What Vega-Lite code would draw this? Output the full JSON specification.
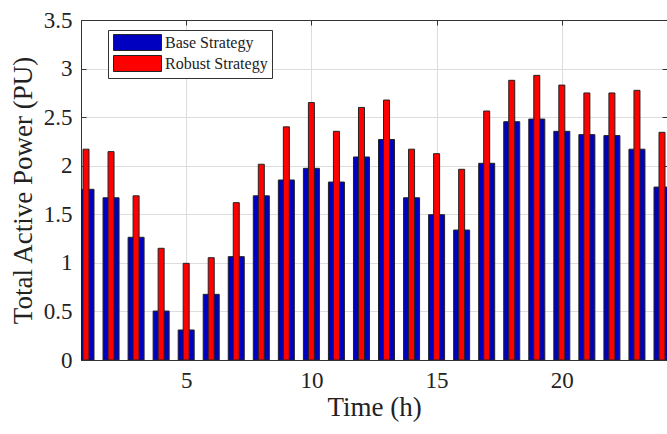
{
  "$schema": "https://vega.github.io/schema/vega-lite/v6.json",
  "width": 586,
  "height": 340,
  "autosize": "none",
  "padding": {"left": 81, "top": 20, "right": 0, "bottom": 74},
  "background": "white",
  "config": {
    "view": {"stroke": "#333333", "strokeWidth": 1},
    "font": "Liberation Serif"
  },
  "data": {
    "values": [
      {"hour": 1, "base": 1.757, "robust": 2.17},
      {"hour": 2, "base": 1.67, "robust": 2.145},
      {"hour": 3, "base": 1.263, "robust": 1.69},
      {"hour": 4, "base": 0.504, "robust": 1.15},
      {"hour": 5, "base": 0.309, "robust": 0.995},
      {"hour": 6, "base": 0.676, "robust": 1.053},
      {"hour": 7, "base": 1.064, "robust": 1.62},
      {"hour": 8, "base": 1.69, "robust": 2.015},
      {"hour": 9, "base": 1.853, "robust": 2.40},
      {"hour": 10, "base": 1.973, "robust": 2.65},
      {"hour": 11, "base": 1.832, "robust": 2.354},
      {"hour": 12, "base": 2.09, "robust": 2.60},
      {"hour": 13, "base": 2.27, "robust": 2.676},
      {"hour": 14, "base": 1.67, "robust": 2.17},
      {"hour": 15, "base": 1.496, "robust": 2.124},
      {"hour": 16, "base": 1.338, "robust": 1.963},
      {"hour": 17, "base": 2.025, "robust": 2.563},
      {"hour": 18, "base": 2.453, "robust": 2.879},
      {"hour": 19, "base": 2.48, "robust": 2.93},
      {"hour": 20, "base": 2.354, "robust": 2.83},
      {"hour": 21, "base": 2.32, "robust": 2.749},
      {"hour": 22, "base": 2.31, "robust": 2.749},
      {"hour": 23, "base": 2.17, "robust": 2.776},
      {"hour": 24, "base": 1.78, "robust": 2.344}
    ]
  },
  "transform": [
    {"fold": ["base", "robust"], "as": ["key", "value"]},
    {"lookup": "key", "from": {"data": {"values": [{"key": "base", "strategy": "Base Strategy"}, {"key": "robust", "strategy": "Robust Strategy"}]}, "key": "key", "fields": ["strategy"]}}
  ],
  "encoding": {
    "color": {
      "field": "strategy", "type": "nominal",
      "scale": {"domain": ["Base Strategy", "Robust Strategy"], "range": ["#0000c0", "#ff0000"]},
      "legend": {
        "title": null, "orient": "none", "legendX": 27, "legendY": 10,
        "symbolType": "M-3,-1H3V1H-3Z", "symbolSize": 256, "symbolStrokeColor": "#222", "symbolStrokeWidth": 1,
        "symbolOffset": 17,
        "labelFont": "Liberation Serif", "labelFontSize": 16, "labelColor": "#222",
        "rowPadding": 0, "labelOffset": 19, "padding": 4,
        "strokeColor": "#333", "fillColor": "white"
      }
    }
  },
  "layer": [
    {
      "transform": [{"filter": "datum.key === 'base'"}],
      "mark": {"type": "bar", "width": 16, "clip": true, "stroke": "#222", "strokeWidth": 1},
      "encoding": {
        "x": {
          "field": "hour", "type": "quantitative",
          "scale": {"domain": [1, 24], "nice": false, "zero": false},
          "axis": {
            "title": "Time (h)", "values": [5, 10, 15, 20],
            "titleFont": "Liberation Serif", "titleFontSize": 27, "titleFontWeight": "normal", "titleColor": "#222",
            "labelFont": "Liberation Serif", "labelFontSize": 23, "labelColor": "#222",
            "grid": true, "gridColor": "#dddddd", "tickSize": -5, "tickColor": "#333", "domainColor": "#333",
            "labelPadding": 14, "titlePadding": 2
          }
        },
        "y": {
          "field": "value", "type": "quantitative",
          "scale": {"domain": [0, 3.5], "nice": false},
          "axis": {
            "title": "Total Active Power (PU)", "values": [0, 0.5, 1, 1.5, 2, 2.5, 3, 3.5], "format": "~g",
            "titleFont": "Liberation Serif", "titleFontSize": 27, "titleFontWeight": "normal", "titleColor": "#222",
            "labelFont": "Liberation Serif", "labelFontSize": 23, "labelColor": "#222",
            "grid": true, "gridColor": "#dddddd", "tickSize": -5, "tickColor": "#333", "domainColor": "#333",
            "labelPadding": 14, "titlePadding": 6
          }
        }
      }
    },
    {
      "transform": [{"filter": "datum.key === 'robust'"}],
      "mark": {"type": "bar", "width": 6, "clip": true, "stroke": "#222", "strokeWidth": 1},
      "encoding": {
        "x": {
          "field": "hour", "type": "quantitative",
          "axis": {"orient": "top", "title": null, "labels": false, "grid": false, "values": [5, 10, 15, 20], "tickSize": -5, "tickColor": "#333", "domainColor": "#333"}
        },
        "y": {
          "field": "value", "type": "quantitative",
          "axis": {"orient": "right", "title": null, "labels": false, "grid": false, "values": [0, 0.5, 1, 1.5, 2, 2.5, 3, 3.5], "tickSize": -5, "tickColor": "#333", "domainColor": "#333"}
        }
      }
    }
  ],
  "resolve": {"axis": {"x": "independent", "y": "independent"}}
}
